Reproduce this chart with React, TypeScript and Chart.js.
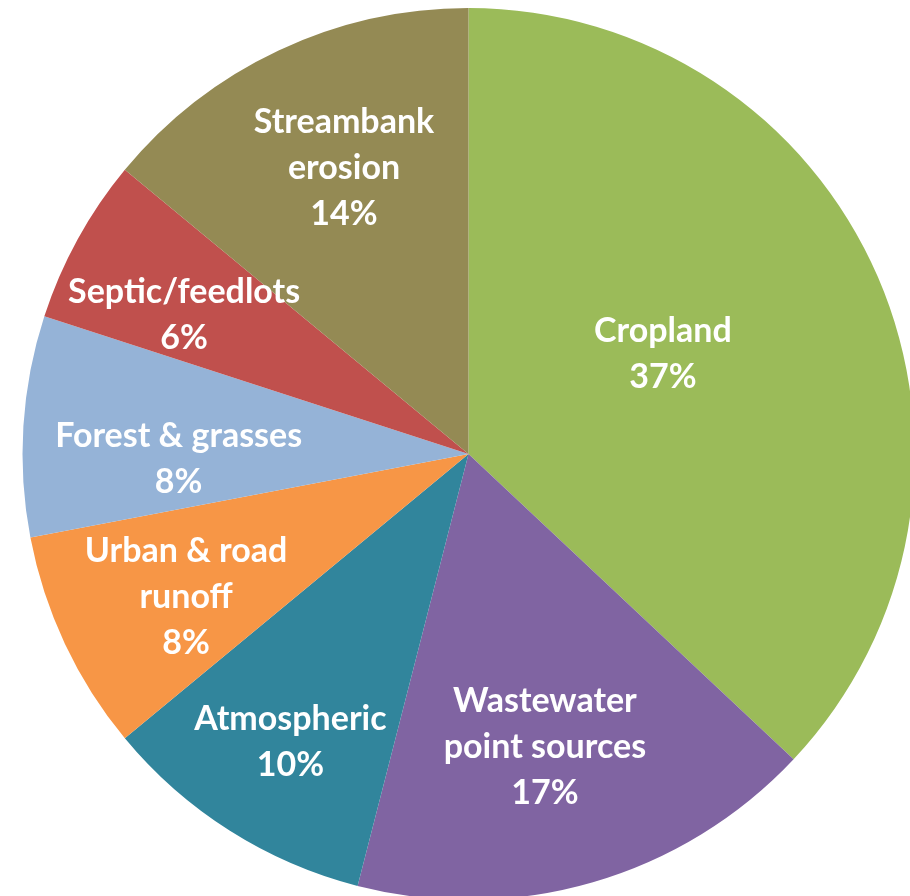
import React, { useEffect, useRef } from "react";
import { Chart, registerables } from "chart.js";

Chart.register(...registerables);

const categories = [
  ["Cropland"],
  ["Wastewater", "point sources"],
  ["Atmospheric"],
  ["Urban & road", "runoff"],
  ["Forest & grasses"],
  ["Septic/feedlots"],
  ["Streambank", "erosion"],
];
const shares = [37, 17, 10, 8, 8, 6, 14];
const colors = ["#9BBB59", "#8064A2", "#31859C", "#F79646", "#95B3D7", "#C0504D", "#948A54"];

// label placement: [angle (deg clockwise from top), radius fraction]
const labelPlacement: [number, number][] = [
  [62.8, 0.49],
  [165.4, 0.68],
  [211.7, 0.76],
  [243.1, 0.71],
  [269.0, 0.65],
  [296.1, 0.71],
  [336.5, 0.7],
];

const labelPlugin = {
  id: "sliceLabels",
  afterDatasetsDraw(chart: any) {
    const meta = chart.getDatasetMeta(0);
    const ctx = chart.ctx;
    ctx.save();
    ctx.fillStyle = "#FFFFFF";
    ctx.font = "bold 34px Lato";
    ctx.textAlign = "center";
    ctx.textBaseline = "middle";
    const lineH = 46;
    meta.data.forEach((arc: any, i: number) => {
      const { x, y, outerRadius } = arc.getProps(["x", "y", "outerRadius"], true);
      const [deg, frac] = labelPlacement[i];
      const a = (deg * Math.PI) / 180;
      const cx = x + Math.sin(a) * outerRadius * frac;
      const cy = y - Math.cos(a) * outerRadius * frac;
      const lines = [...categories[i], shares[i] + "%"];
      const top = cy - ((lines.length - 1) * lineH) / 2;
      lines.forEach((t, k) => ctx.fillText(t, cx, top + k * lineH));
    });
    ctx.restore();
  },
};

export default function App() {
  const ref = useRef<HTMLCanvasElement>(null);
  useEffect(() => {
    if (!ref.current) return;
    const chart = new Chart(ref.current, {
      type: "pie",
      data: {
        labels: categories.map((c) => c.join(" ")),
        datasets: [
          {
            data: shares,
            backgroundColor: colors,
            borderWidth: 0,
          },
        ],
      },
      options: {
        responsive: false,
        animation: false,
        layout: { padding: { left: 22, right: 23, top: 8, bottom: 8 } },
        plugins: { legend: { display: false }, tooltip: { enabled: false } },
      },
      plugins: [labelPlugin],
    });
    return () => chart.destroy();
  }, []);
  return (
    <div style={{ position: "fixed", left: 0, top: 0, width: 910, height: 896, overflow: "hidden", background: "#fff" }}>
      <canvas ref={ref} width={938} height={908} style={{ display: "block" }} />
    </div>
  );
}
